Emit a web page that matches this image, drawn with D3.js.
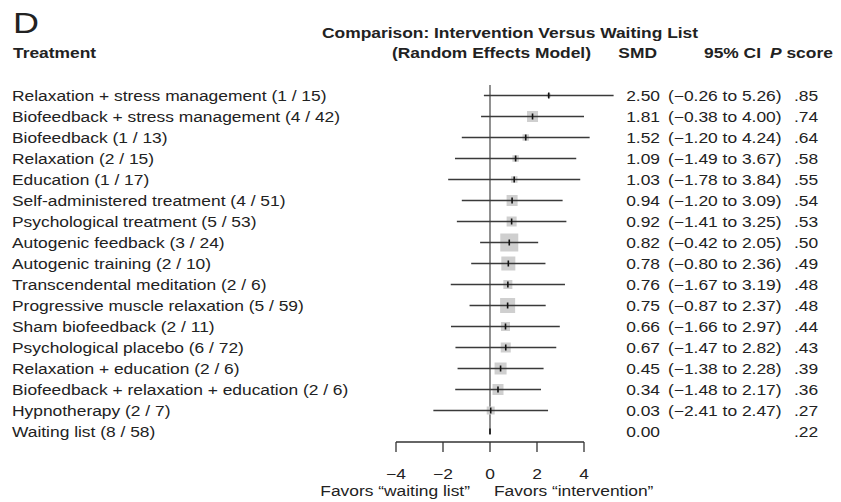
<!DOCTYPE html>
<html>
<head>
<meta charset="utf-8">
<script src="https://cdn.jsdelivr.net/npm/d3@7"></script>
<style>
  html, body { margin: 0; padding: 0; background: #fff; }
  svg { display: block; }
  text { font-family: "Liberation Sans", Arial, Helvetica, sans-serif; fill: #222; }
</style>
</head>
<body>
<svg id="chart" width="841" height="502"></svg>
<script>
// Network meta-analysis: each treatment versus waiting list (random effects)
const treatments = [
  "Relaxation + stress management (1 / 15)",
  "Biofeedback + stress management (4 / 42)",
  "Biofeedback (1 / 13)",
  "Relaxation (2 / 15)",
  "Education (1 / 17)",
  "Self-administered treatment (4 / 51)",
  "Psychological treatment (5 / 53)",
  "Autogenic feedback (3 / 24)",
  "Autogenic training (2 / 10)",
  "Transcendental meditation (2 / 6)",
  "Progressive muscle relaxation (5 / 59)",
  "Sham biofeedback (2 / 11)",
  "Psychological placebo (6 / 72)",
  "Relaxation + education (2 / 6)",
  "Biofeedback + relaxation + education (2 / 6)",
  "Hypnotherapy (2 / 7)",
  "Waiting list (8 / 58)"
];
const smd      = [2.50, 1.81, 1.52, 1.09, 1.03, 0.94, 0.92, 0.82, 0.78, 0.76, 0.75, 0.66, 0.67, 0.45, 0.34, 0.03, 0.00];
const ciLower  = [-0.26, -0.38, -1.20, -1.49, -1.78, -1.20, -1.41, -0.42, -0.80, -1.67, -0.87, -1.66, -1.47, -1.38, -1.48, -2.41, null];
const ciUpper  = [5.26, 4.00, 4.24, 3.67, 3.84, 3.09, 3.25, 2.05, 2.36, 3.19, 2.37, 2.97, 2.82, 2.28, 2.17, 2.47, null];
const pScores  = [".85", ".74", ".64", ".58", ".55", ".54", ".53", ".50", ".49", ".48", ".48", ".44", ".43", ".39", ".36", ".27", ".22"];
// relative weight of each comparison (square area)
const weights  = [1.6, 12.1, 4.2, 4.2, 4.2, 12.1, 10.0, 32.4, 19.6, 8.1, 22.5, 8.1, 10.0, 14.4, 12.1, 6.4, 0];
const axisTicks = [-4, -2, 0, 2, 4];

const svg = d3.select("#chart");
const STRETCH = 1.2;   // type set slightly wide

function label(parent, x, y, str, opts = {}) {
  const t = parent.append("text")
    .attr("transform", `translate(${x},${y}) scale(${STRETCH},1)`)
    .attr("font-size", opts.size || 14.5)
    .attr("text-anchor", opts.anchor || "start")
    .text(str);
  if (opts.bold) t.attr("font-weight", "bold");
  if (opts.italic) t.attr("font-style", "italic");
  return t;
}

const x = d3.scaleLinear().domain([-4, 4]).range([396, 584]);
const y = d3.scalePoint().domain(d3.range(treatments.length)).range([95.5, 431.5]);
const side = d3.scaleSqrt().domain([0, d3.max(weights)]).range([0, 18]);

// headings
label(svg, 13, 33, "D", { size: 30 });
label(svg, 13, 58, "Treatment", { bold: true });
label(svg, 322, 38, "Comparison: Intervention Versus Waiting List", { bold: true });
label(svg, 392, 58, "(Random Effects Model)", { bold: true });
label(svg, 657, 58, "SMD", { bold: true, anchor: "end" });
label(svg, 704, 58, "95% CI", { bold: true });
const ps = label(svg, 770, 58, "", { bold: true });
ps.append("tspan").attr("font-style", "italic").text("P");
ps.append("tspan").text(" score");

// reference line at zero
svg.append("line")
  .attr("x1", x(0)).attr("x2", x(0))
  .attr("y1", 85).attr("y2", 434)
  .attr("stroke", "#555").attr("stroke-width", 1.3);

const rows = svg.append("g").selectAll("g")
  .data(treatments.map((t, i) => ({ t, i })))
  .join("g");

// weight squares
rows.filter(d => weights[d.i] > 0).append("rect")
  .attr("x", d => x(smd[d.i]) - side(weights[d.i]) / 2)
  .attr("y", d => y(d.i) - side(weights[d.i]) / 2)
  .attr("width", d => side(weights[d.i]))
  .attr("height", d => side(weights[d.i]))
  .attr("fill", "#cfcfcf");

// confidence intervals
rows.filter(d => ciLower[d.i] !== null).append("line")
  .attr("x1", d => x(ciLower[d.i]))
  .attr("x2", d => x(ciUpper[d.i]))
  .attr("y1", d => y(d.i)).attr("y2", d => y(d.i))
  .attr("stroke", "#3a3a3a").attr("stroke-width", 1.4);

// point estimates
rows.append("line")
  .attr("x1", d => x(smd[d.i])).attr("x2", d => x(smd[d.i]))
  .attr("y1", d => y(d.i) - 3).attr("y2", d => y(d.i) + 3)
  .attr("stroke", "#111").attr("stroke-width", 1.6);

// text columns
rows.each(function (d) {
  const g = d3.select(this);
  const yy = y(d.i) + 5.5;
  label(g, 12, yy, d.t);
  label(g, 660, yy, smd[d.i].toFixed(2), { anchor: "end" });
  if (ciLower[d.i] !== null) {
    const f = v => (v < 0 ? "\u2212" : "") + Math.abs(v).toFixed(2);
    label(g, 668, yy, `(${f(ciLower[d.i])} to ${f(ciUpper[d.i])})`);
  }
  label(g, 794, yy, pScores[d.i]);
});

// x axis, ticks pointing down
const axisY = 442;
const ax = svg.append("g").attr("transform", `translate(0,${axisY})`);
ax.append("line")
  .attr("x1", x(-4)).attr("x2", x(4))
  .attr("stroke", "#333").attr("stroke-width", 1.3);
ax.selectAll("line.tick").data(axisTicks).join("line")
  .attr("class", "tick")
  .attr("x1", d => x(d)).attr("x2", d => x(d))
  .attr("y1", 0).attr("y2", 10)
  .attr("stroke", "#333").attr("stroke-width", 1.3);
axisTicks.forEach(t => label(ax, x(t), 37, t < 0 ? "\u2212" + Math.abs(t) : String(t), { anchor: "middle" }));

label(svg, 470, 496, "Favors \u201cwaiting list\u201d", { anchor: "end" });
label(svg, 494, 496, "Favors \u201cintervention\u201d");
</script>
</body>
</html>
